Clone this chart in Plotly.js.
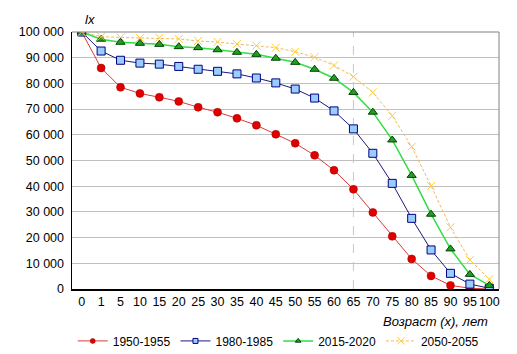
<!DOCTYPE html>
<html>
<head>
<meta charset="utf-8">
<script src="https://cdn.plot.ly/plotly-3.0.1.min.js"></script>
<style>html,body{margin:0;padding:0;background:#fff;}#chart{width:517px;height:354px;}</style>
</head>
<body>
<div id="chart"></div>
<script>
var ages = ["0","1","5","10","15","20","25","30","35","40","45","50","55","60","65","70","75","80","85","90","95","100"];
var s1950 = [100000,86000,78500,76100,74600,73000,70700,68800,66400,63700,60200,56700,52000,46200,38800,29800,20500,11700,5100,1400,300,0];
var s1980 = [100000,92600,89000,87900,87500,86600,85500,84700,83700,82100,80200,77800,74300,69300,62300,52800,41100,27500,15200,6100,1900,300];
var s2015 = [100000,97200,96000,95600,95200,94300,93900,93100,92100,91300,89800,88200,85500,82000,76500,68800,58000,44200,29100,15600,5700,1400];
var s2050 = [100000,98200,97900,97700,97700,97300,96500,96100,95300,94700,93900,92300,90200,87000,82600,76500,67400,55400,40100,24000,11300,3800];
var names = ["1950-1955","1980-1985","2015-2020","2050-2055"];

var styles = [
  {line: {color: "#d83a3a", width: 1}, marker: {symbol: "circle", color: "#e00000", line: {color: "#a00000", width: 0.5}}},
  {line: {color: "#1a1a80", width: 1}, marker: {symbol: "square", color: "#99ccff", line: {color: "#000080", width: 1}}},
  {line: {color: "#33dd44", width: 1.5}, marker: {symbol: "triangle-up", color: "#20a020", line: {color: "#004000", width: 1}}},
  {line: {color: "#f0b860", width: 1, dash: "3px,2px"}, marker: {symbol: "x-thin-open", color: "#ffcc33", line: {color: "#ffcc33", width: 1}}}
];
var series = [s1950, s1980, s2015, s2050];
var traces = [];
series.forEach(function (s, i) {
  var st = styles[i];
  traces.push({x: ages, y: s, name: names[i], mode: "lines+markers", showlegend: false,
    line: st.line, marker: Object.assign({}, st.marker, {size: 8})});
});
series.forEach(function (s, i) {
  var st = styles[i];
  traces.push({x: [null], y: [null], name: names[i], mode: "lines+markers", showlegend: true,
    line: st.line, marker: Object.assign({}, st.marker, {size: i === 3 ? 7 : 5})});
});

var layout = {
  width: 517, height: 354,
  margin: {l: 72, r: 18, t: 32, b: 65, autoexpand: false},
  paper_bgcolor: "#fff", plot_bgcolor: "#fff",
  separators: ", ",
  font: {family: "Liberation Sans, Arial, sans-serif", size: 12, color: "#000"},
  showlegend: true,
  legend: {orientation: "h", x: 0.483, xanchor: "center", y: -0.202, yanchor: "middle",
           font: {size: 12}, itemwidth: 30, tracegroupgap: 0},
  xaxis: {type: "category", range: [-0.5, 21.5], showgrid: false,
          showline: true, linecolor: "#000", linewidth: 1.5, mirror: false,
          ticks: "", tickfont: {size: 12.5}, tickangle: 0, zeroline: false},
  yaxis: {range: [0, 100000], dtick: 10000, tickformat: ",d",
          showgrid: true, gridcolor: "#c0c0c0", gridwidth: 1,
          showline: true, linecolor: "#000", linewidth: 1.5,
          ticks: "", tickfont: {size: 12.5}, zeroline: false, ticklabelstandoff: 4},
  shapes: [
    {type: "line", xref: "x", yref: "paper", x0: 14, x1: 14, y0: 0, y1: 1,
     line: {color: "#c8c8c8", width: 1, dash: "dash"}, layer: "below"},
    {type: "line", xref: "paper", yref: "paper", x0: 0, x1: 1, y0: 1, y1: 1,
     line: {color: "#808080", width: 1}},
    {type: "line", xref: "paper", yref: "paper", x0: 1, x1: 1, y0: 0, y1: 1,
     line: {color: "#808080", width: 1}}
  ],
  annotations: [
    {text: "<i>lx</i>", xref: "paper", yref: "paper", x: 0.043, y: 1.05, xanchor: "center", yanchor: "middle",
     showarrow: false, font: {size: 13}},
    {text: "<i>Возраст (x), лет</i>", xref: "paper", yref: "paper", x: 0.98, y: -0.125, xanchor: "right", yanchor: "middle",
     showarrow: false, font: {size: 13}}
  ]
};

Plotly.newPlot("chart", traces, layout, {displayModeBar: false, staticPlot: true});
</script>
</body>
</html>
